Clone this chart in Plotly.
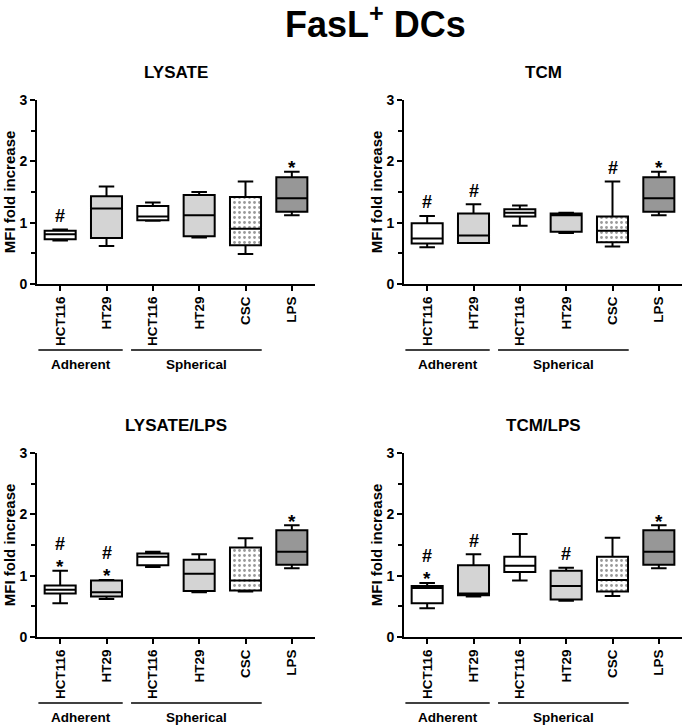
import plotly.graph_objects as go

# ---------------- data ----------------
tick_labels = ["HCT116", "HT29", "HCT116", "HT29", "CSC", "LPS"]
fill_kinds = ["white", "light", "white", "light", "dots", "dark"]
panel_titles = ["LYSATE", "TCM", "LYSATE/LPS", "TCM/LPS"]
groups = [("Adherent", 0, 1), ("Spherical", 2, 4)]

# per panel: lowerfence, q1, median, q3, upperfence for each category
lysate_min = [0.71, 0.62, 1.03, 0.76, 0.49, 1.12]
lysate_q1 = [0.73, 0.75, 1.04, 0.78, 0.63, 1.18]
lysate_med = [0.81, 1.23, 1.10, 1.12, 0.90, 1.40]
lysate_q3 = [0.87, 1.43, 1.27, 1.45, 1.42, 1.74]
lysate_max = [0.89, 1.59, 1.33, 1.50, 1.67, 1.83]
lysate_marks = ["#", "", "", "", "", "*"]

tcm_min = [0.60, 0.67, 0.95, 0.83, 0.61, 1.12]
tcm_q1 = [0.66, 0.67, 1.10, 0.85, 0.68, 1.18]
tcm_med = [0.74, 0.79, 1.16, 1.12, 0.87, 1.40]
tcm_q3 = [0.99, 1.15, 1.22, 1.15, 1.10, 1.74]
tcm_max = [1.11, 1.30, 1.28, 1.16, 1.67, 1.83]
tcm_marks = ["#", "#", "", "", "#", "*"]

lyslps_min = [0.55, 0.62, 1.14, 0.73, 0.74, 1.12]
lyslps_q1 = [0.71, 0.66, 1.17, 0.75, 0.76, 1.18]
lyslps_med = [0.77, 0.73, 1.31, 1.03, 0.92, 1.39]
lyslps_q3 = [0.84, 0.92, 1.36, 1.26, 1.46, 1.74]
lyslps_max = [1.08, 0.93, 1.39, 1.35, 1.61, 1.82]
lyslps_marks = ["*#", "*#", "", "", "", "*"]

tcmlps_min = [0.47, 0.66, 0.92, 0.59, 0.67, 1.12]
tcmlps_q1 = [0.55, 0.68, 1.06, 0.61, 0.74, 1.18]
tcmlps_med = [0.80, 0.71, 1.16, 0.83, 0.93, 1.39]
tcmlps_q3 = [0.83, 1.17, 1.31, 1.08, 1.31, 1.74]
tcmlps_max = [0.88, 1.35, 1.68, 1.13, 1.62, 1.82]
tcmlps_marks = ["*#", "#", "", "#", "", "*"]

panels = [
    (lysate_min, lysate_q1, lysate_med, lysate_q3, lysate_max, lysate_marks),
    (tcm_min, tcm_q1, tcm_med, tcm_q3, tcm_max, tcm_marks),
    (lyslps_min, lyslps_q1, lyslps_med, lyslps_q3, lyslps_max, lyslps_marks),
    (tcmlps_min, tcmlps_q1, tcmlps_med, tcmlps_q3, tcmlps_max, tcmlps_marks),
]

# ---------------- style ----------------
W, H = 685, 727
FONT = "Arial, Liberation Sans, Helvetica, sans-serif"
colors = {"white": "#ffffff", "light": "#d4d4d4", "dark": "#979797", "dots": "rgba(0,0,0,0)"}
box_w = 0.67
xdom = [(37 / W, 315 / W), (404 / W, 682 / W)]
ydom_px = [(100, 284), (453, 637)]
ydom = [(1 - b / H, 1 - t / H) for (t, b) in ydom_px]

fig = go.Figure()
layout = dict(
    width=W, height=H, margin=dict(l=0, r=0, t=0, b=0, pad=0, autoexpand=False),
    paper_bgcolor="white", plot_bgcolor="white",
    showlegend=False, boxmode="overlay", barmode="overlay",
    font=dict(family=FONT, color="black"),
)
annotations = []
shapes = []

for p, (mn, q1, md, q3, mx, marks) in enumerate(panels):
    col = p % 2
    row = p // 2
    idx = "" if p == 0 else str(p + 1)
    xa, ya = "x" + idx, "y" + idx
    xs = list(range(len(tick_labels)))

    # dotted background for CSC
    for i, kind in enumerate(fill_kinds):
        if kind == "dots":
            fig.add_trace(go.Bar(
                x=[xs[i]], y=[q3[i] - q1[i]], base=[q1[i]], width=box_w,
                marker=dict(color="white", line=dict(width=0),
                            pattern=dict(shape=".", fgcolor="#333333", bgcolor="white",
                                         size=5, solidity=0.25)),
                xaxis=xa, yaxis=ya, hoverinfo="skip"))
    for i, kind in enumerate(fill_kinds):
        fig.add_trace(go.Box(
            x=[xs[i]], q1=[q1[i]], median=[md[i]], q3=[q3[i]],
            lowerfence=[mn[i]], upperfence=[mx[i]],
            width=box_w, whiskerwidth=0.5, fillcolor=colors[kind],
            line=dict(color="black", width=2), boxpoints=False,
            xaxis=xa, yaxis=ya))

    layout["xaxis" + idx] = dict(
        domain=xdom[col], anchor=ya, range=[-0.5, 5.5], automargin=False,
        tickmode="array", tickvals=xs, ticktext=tick_labels, tickangle=-90,
        tickfont=dict(size=13.5, weight="bold", family=FONT, color="black"),
        ticks="outside", ticklen=5, tickwidth=2, tickcolor="black",
        showline=True, linewidth=2, linecolor="black", showgrid=False, zeroline=False,
    )
    layout["yaxis" + idx] = dict(
        domain=ydom[row], anchor=xa, range=[0, 3], automargin=False,
        tickvals=[0, 1, 2, 3], ticktext=["0", "1", "2", "3"],
        tickfont=dict(size=14, weight="bold", family=FONT, color="black"),
        ticks="outside", ticklen=5, tickwidth=2, tickcolor="black",
        minor=dict(tickvals=[0.5, 1.5, 2.5], ticks="outside", ticklen=4, tickwidth=2, tickcolor="black"),
        showline=True, linewidth=2, linecolor="black", showgrid=False, zeroline=False,
    )

    # panel title
    annotations.append(dict(text="<b>" + panel_titles[p] + "</b>", xref=xa + " domain", yref=ya + " domain",
                            x=0.5, y=1.152, showarrow=False, font=dict(size=17, family=FONT),
                            xanchor="center", yanchor="middle"))
    # y title
    annotations.append(dict(text="<b>MFI fold increase</b>", xref=xa + " domain", yref=ya + " domain",
                            x=-0.100, y=0.5, textangle=-90, showarrow=False,
                            font=dict(size=15, family=FONT), xanchor="center", yanchor="middle"))
    # significance marks
    for i, m in enumerate(marks):
        off = 0.10
        for ch in m:
            if ch == "*":
                yv = mx[i] + off + 0.02
                annotations.append(dict(text="<b>*</b>", xref=xa, yref=ya, x=xs[i], y=yv,
                                        yanchor="middle", showarrow=False, yshift=-3,
                                        font=dict(size=19, family=FONT)))
                off += 0.22
            else:
                yv = mx[i] + off + 0.12
                annotations.append(dict(text="<b>#</b>", xref=xa, yref=ya, x=xs[i], y=yv,
                                        yanchor="middle", showarrow=False,
                                        font=dict(size=18, family=FONT)))
                off += 0.26
    # group lines and labels
    for name, a, b in groups:
        x0, x1 = a - 0.47, b + 0.35
        shapes.append(dict(type="line", xref=xa, yref=ya + " domain", x0=x0, x1=x1,
                           y0=-0.359, y1=-0.359, line=dict(color="black", width=1.5)))
        annotations.append(dict(text="<b>" + name + "</b>", xref=xa, yref=ya + " domain",
                                x=(x0 + x1) / 2, y=-0.435, showarrow=False,
                                font=dict(size=13.5, family=FONT), xanchor="center", yanchor="middle"))

annotations.append(dict(text="<b>FasL<sup>+</sup> DCs</b>", xref="paper", yref="paper",
                        x=375 / W, y=1 - 22 / H, showarrow=False, xanchor="center", yanchor="middle",
                        font=dict(size=36, family=FONT)))

layout["annotations"] = annotations
layout["shapes"] = shapes
fig.update_layout(**layout)
# remove the default page margin so the 685x727 figure fills the window exactly
fig.write_html("out.html", config={"displayModeBar": False},
               post_script="document.body.style.margin='0';document.body.style.overflow='hidden';")
